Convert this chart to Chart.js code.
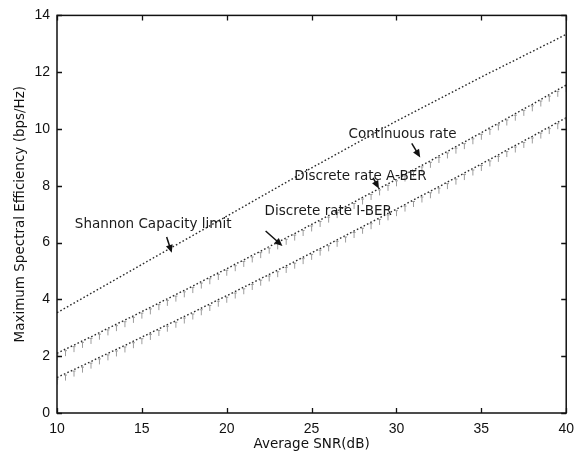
<!DOCTYPE html>
<html>
<head>
<meta charset="utf-8">
<script src="https://cdn.jsdelivr.net/npm/chart.js@4"></script>
<style>
html,body{margin:0;padding:0;background:#fff;}
canvas{display:block;}
</style>
</head>
<body>
<canvas id="c" width="582" height="463"></canvas>
<script>
// ---- data ----
const snr = [10,11,12,13,14,15,16,17,18,19,20,21,22,23,24,25,26,27,28,29,30,31,32,33,34,35,36,37,38,39,40];
const shannonCapacity = [3.53,3.87,4.21,4.55,4.89,5.23,5.57,5.91,6.25,6.59,6.93,7.27,7.61,7.95,8.29,8.63,8.96,9.29,9.62,9.95,10.28,10.59,10.90,11.21,11.52,11.83,12.13,12.43,12.73,13.03,13.33];
const snrFine = [10,10.5,11,11.5,12,12.5,13,13.5,14,14.5,15,15.5,16,16.5,17,17.5,18,18.5,19,19.5,20,20.5,21,21.5,22,22.5,23,23.5,24,24.5,25,25.5,26,26.5,27,27.5,28,28.5,29,29.5,30,30.5,31,31.5,32,32.5,33,33.5,34,34.5,35,35.5,36,36.5,37,37.5,38,38.5,39,39.5,40];
const discreteABER = [2.10,2.25,2.39,2.54,2.68,2.83,2.98,3.13,3.27,3.42,3.57,3.72,3.87,4.02,4.17,4.32,4.47,4.63,4.78,4.93,5.08,5.24,5.39,5.55,5.70,5.86,6.01,6.17,6.32,6.48,6.64,6.80,6.95,7.11,7.27,7.43,7.59,7.75,7.91,8.07,8.23,8.40,8.56,8.72,8.88,9.05,9.21,9.38,9.54,9.71,9.87,10.04,10.20,10.37,10.54,10.71,10.87,11.04,11.21,11.38,11.55];
const discreteIBER = [1.25,1.39,1.53,1.67,1.81,1.96,2.10,2.24,2.38,2.53,2.67,2.82,2.96,3.11,3.25,3.40,3.54,3.69,3.84,3.99,4.13,4.28,4.43,4.58,4.73,4.88,5.03,5.18,5.33,5.49,5.64,5.79,5.94,6.10,6.25,6.41,6.56,6.72,6.87,7.03,7.18,7.34,7.50,7.66,7.81,7.97,8.13,8.29,8.45,8.61,8.77,8.93,9.09,9.26,9.42,9.58,9.74,9.91,10.07,10.24,10.40];
const xTickValues = [10,15,20,25,30,35,40];
const yTickValues = [0,2,4,6,8,10,12,14];

// annotation labels (text + anchor in data coordinates, arrow from/to in data coordinates)
const annotationTexts = ["Shannon Capacity limit","Discrete rate I-BER","Discrete rate A-BER","Continuous rate"];
const annotationAnchors = [[11.05,6.65],[22.23,7.10],[23.98,8.33],[27.18,9.80]];
const arrowFrom = [[16.46,6.20],[22.29,6.41],[28.62,8.28],[30.90,9.49]];
const arrowTo   = [[16.76,5.64],[23.28,5.88],[28.97,7.90],[31.40,9.00]];

const FONT = "'Liberation Sans', Arial, Helvetica, sans-serif";
const WIDE = "'DejaVu Sans', Verdana, sans-serif";

// small hanging tick used as the point mark of the discrete-rate curves
function makeTick(){
  const c = document.createElement('canvas');
  c.width = 5; c.height = 16;
  const g = c.getContext('2d');
  g.strokeStyle = 'rgba(140,140,140,0.85)';
  g.lineWidth = 1;
  g.beginPath();
  g.moveTo(2.5, 9.5); g.lineTo(2.5, 15);
  g.moveTo(1, 9.5); g.lineTo(4, 9.5);
  g.stroke();
  return c;
}
const tickMark = makeTick();

function pts(xs, ys){ return xs.map((x,i)=>({x:x, y:ys[i]})); }

const framePlugin = {
  id:'frame',
  beforeDraw(chart){
    const ctx = chart.ctx;
    ctx.save(); ctx.fillStyle='#fff'; ctx.fillRect(0,0,chart.width,chart.height); ctx.restore();
  },
  afterDraw(chart){
    const {ctx, chartArea:a, scales:{x, y}} = chart;
    ctx.save();
    ctx.strokeStyle = '#111';
    ctx.lineWidth = 1.5;
    ctx.strokeRect(a.left, a.top, a.right-a.left, a.bottom-a.top);
    ctx.lineWidth = 1.3;
    ctx.beginPath();
    const L = 5;
    xTickValues.forEach(v=>{
      const px = Math.round(x.getPixelForValue(v))+0.5;
      ctx.moveTo(px, a.bottom); ctx.lineTo(px, a.bottom-L);
      ctx.moveTo(px, a.top); ctx.lineTo(px, a.top+L);
    });
    yTickValues.forEach(v=>{
      const py = Math.round(y.getPixelForValue(v))+0.5;
      ctx.moveTo(a.left, py); ctx.lineTo(a.left+L, py);
      ctx.moveTo(a.right, py); ctx.lineTo(a.right-L, py);
    });
    ctx.stroke();

    // annotations
    ctx.fillStyle = '#1a1a1a';
    ctx.font = "13.5px " + WIDE;
    ctx.textAlign = 'left';
    ctx.textBaseline = 'middle';
    annotationTexts.forEach((t,i)=>{
      ctx.fillText(t, x.getPixelForValue(annotationAnchors[i][0]), y.getPixelForValue(annotationAnchors[i][1]));
      const x0 = x.getPixelForValue(arrowFrom[i][0]), y0 = y.getPixelForValue(arrowFrom[i][1]);
      const x1 = x.getPixelForValue(arrowTo[i][0]), y1 = y.getPixelForValue(arrowTo[i][1]);
      const ang = Math.atan2(y1-y0, x1-x0);
      const hl = 8, hw = 3.5;
      ctx.strokeStyle = '#111'; ctx.lineWidth = 1.5;
      ctx.beginPath(); ctx.moveTo(x0,y0); ctx.lineTo(x1 - Math.cos(ang)*hl*0.6, y1 - Math.sin(ang)*hl*0.6); ctx.stroke();
      ctx.beginPath();
      ctx.moveTo(x1, y1);
      ctx.lineTo(x1 - Math.cos(ang)*hl - Math.sin(ang)*hw, y1 - Math.sin(ang)*hl + Math.cos(ang)*hw);
      ctx.lineTo(x1 - Math.cos(ang)*hl + Math.sin(ang)*hw, y1 - Math.sin(ang)*hl - Math.cos(ang)*hw);
      ctx.closePath(); ctx.fillStyle='#111'; ctx.fill();
      ctx.fillStyle = '#1a1a1a';
    });
    ctx.restore();
  }
};

const lineStyle = {borderColor:'#2a2a2a', borderWidth:1.4, borderDash:[1.6,2.2], fill:false, tension:0};

new Chart(document.getElementById('c'), {
  type:'line',
  data:{
    datasets:[
      Object.assign({label:'Shannon Capacity limit', data:pts(snr, shannonCapacity), pointRadius:0}, lineStyle),
      Object.assign({label:'Discrete rate A-BER', data:pts(snrFine, discreteABER), pointStyle:tickMark, pointRadius:3}, lineStyle),
      Object.assign({label:'Discrete rate I-BER', data:pts(snrFine, discreteIBER), pointStyle:tickMark, pointRadius:3}, lineStyle)
    ]
  },
  options:{
    responsive:false,
    animation:false,
    events:[],
    layout:{padding:{top:13, right:10, left:0, bottom:0}},
    plugins:{legend:{display:false}, tooltip:{enabled:false}},
    scales:{
      x:{
        type:'linear', min:10, max:40,
        afterFit(s){ s.height = 50; },
        afterBuildTicks(s){ s.ticks = xTickValues.map(v=>({value:v})); },
        grid:{display:false, drawTicks:false},
        border:{display:false},
        ticks:{padding:8, color:'#111', font:{family:FONT, size:14}, maxRotation:0},
        title:{display:true, text:'Average SNR(dB)', color:'#111', font:{family:WIDE, size:13.5}, padding:{top:0,bottom:10}}
      },
      y:{
        type:'linear', min:0, max:14,
        afterFit(s){ s.width = 57; },
        afterBuildTicks(s){ s.ticks = yTickValues.map(v=>({value:v})); },
        grid:{display:false, drawTicks:false},
        border:{display:false},
        ticks:{padding:7, color:'#111', font:{family:FONT, size:14}},
        title:{display:true, text:'Maximum Spectral Efficiency (bps/Hz)', color:'#111', font:{family:WIDE, size:13.5}, padding:{top:12,bottom:0}}
      }
    }
  },
  plugins:[framePlugin]
});
</script>
</body>
</html>
